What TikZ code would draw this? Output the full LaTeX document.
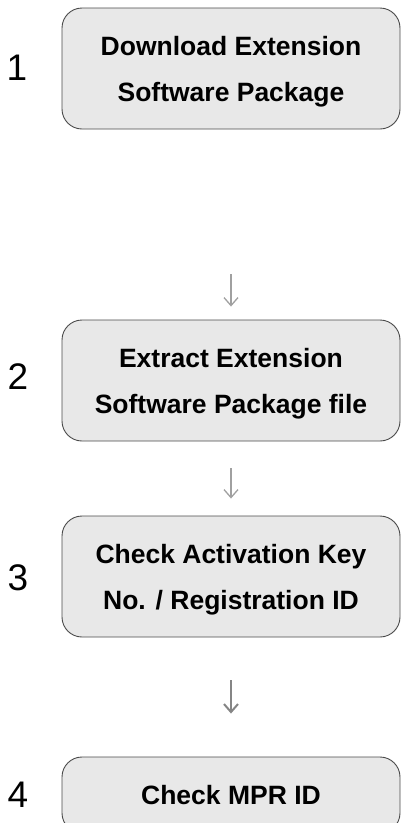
\documentclass[tikz,border=0pt]{standalone}
\usepackage{fontspec}
\setmainfont{Liberation Sans}
\usetikzlibrary{arrows.meta}
\definecolor{boxfill}{HTML}{E8E8E8}
\definecolor{boxline}{HTML}{4A4A4A}
\definecolor{lightarrow}{HTML}{A0A0A0}
\definecolor{darkarrow}{HTML}{858585}
\begin{document}
\begin{tikzpicture}[x=1pt, y=1pt,
    stepbox/.style={draw=boxline, fill=boxfill, line width=0.9pt, rounded corners=20pt,
        minimum width=338pt, minimum height=121pt, inner sep=0pt, align=center, text depth=0pt,
        font=\fontsize{26.5}{46}\selectfont\bfseries, text=black},
    stepnum/.style={inner sep=0pt, font=\fontsize{37}{37}\selectfont, text=black},
    flowarrow/.style={draw=lightarrow, line width=1.3pt, -{Straight Barb[length=8pt,width=14pt]}},
    flowarrowdark/.style={draw=darkarrow, line width=2pt, -{Straight Barb[length=8pt,width=14pt]}}]
    \useasboundingbox (0,0) rectangle (401,-823);
    \begin{scope}
    \clip (0,0) rectangle (401,-823);
    \node[stepbox] (b1) at (231, -68.5) {Download Extension\\Software Package};
    \node[stepbox] (b2) at (231, -380.5) {Extract Extension\\Software Package file};
    \node[stepbox] (b3) at (231, -576.5) {Check Activation Key\\No. / Registration ID};
    \node[stepbox, minimum height=76pt] (b4) at (231, -795) {Check MPR ID};
    \end{scope}

    \node[stepnum] (n1) at (17, -68) {1};
    \node[stepnum] (n2) at (18, -377) {2};
    \node[stepnum] (n3) at (18, -578) {3};
    \node[stepnum] (n4) at (18, -795) {4};

    \draw[flowarrow, shorten <=145pt, shorten >=13pt] (b1) -- (b2);
    \draw[flowarrow, shorten <=27pt, shorten >=17pt] (b2) -- (b3);
    \draw[flowarrowdark, shorten <=43pt, shorten >=43pt] (b3) -- (b4);
\end{tikzpicture}
\end{document}
